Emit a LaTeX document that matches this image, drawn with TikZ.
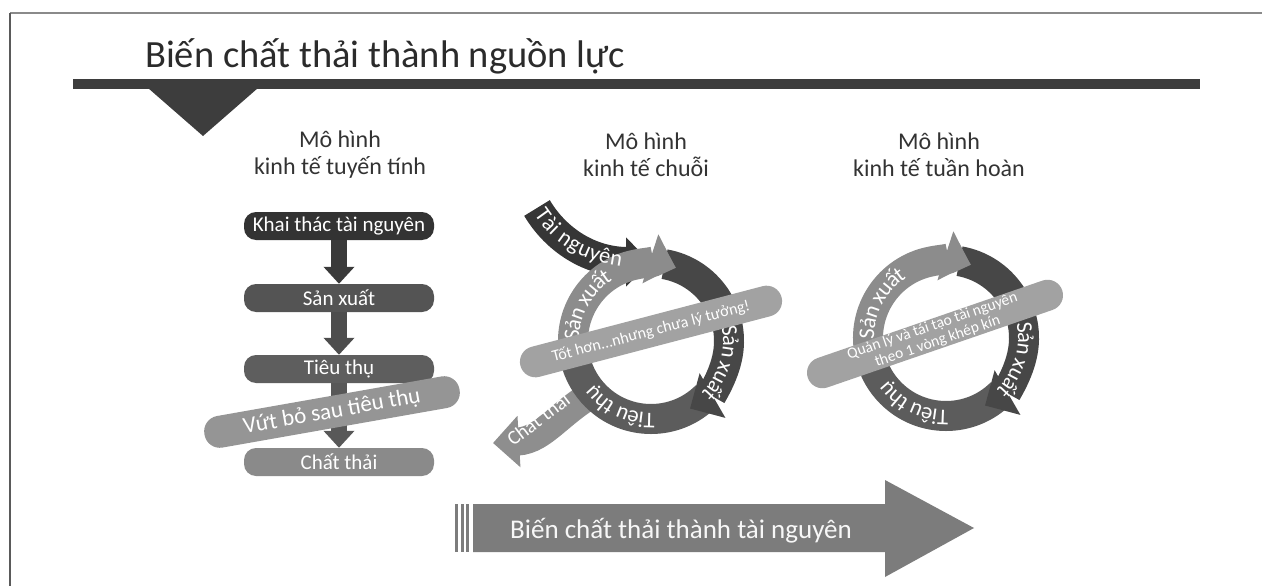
\documentclass[tikz,border=0pt]{standalone}
\usepackage{fontspec}
\setmainfont{Carlito}
\usetikzlibrary{arrows.meta,decorations.text,calc}
\definecolor{cTitle}{HTML}{2B2B2B}
\definecolor{cHdr}{HTML}{333333}
\definecolor{cBar}{HTML}{3D3D3D}
\definecolor{cFrameT}{HTML}{8A8A8A}
\definecolor{cFrameL}{HTML}{5A5A5A}
\definecolor{cBoxA}{HTML}{333333}
\definecolor{cBoxB}{HTML}{545454}
\definecolor{cBoxC}{HTML}{5E5E5E}
\definecolor{cBoxD}{HTML}{8A8A8A}
\definecolor{cArA}{HTML}{3A3A3A}
\definecolor{cArB}{HTML}{4D4D4D}
\definecolor{cArC}{HTML}{585858}
\definecolor{cBand}{HTML}{A2A2A2}
\definecolor{cRingL}{HTML}{8C8C8C}
\definecolor{cRingR}{HTML}{474747}
\definecolor{cRingB}{HTML}{5C5C5C}
\definecolor{cRes}{HTML}{363636}
\definecolor{cWaste}{HTML}{8E8E8E}
\definecolor{cBig}{HTML}{7C7C7C}
\newcommand\ringfont{\fontsize{22.5}{22.5}\selectfont}
\newcommand\wastefont{\fontsize{20}{20}\selectfont}
\begin{document}
\begin{tikzpicture}[x=1pt,y=1pt,
  hdr/.style={align=center, inner sep=0pt, text=cHdr, font=\fontsize{24}{27}\selectfont},
  lbox/.style={rounded corners=12pt, minimum width=190pt, minimum height=28pt, inner sep=0pt, text=white, font=\fontsize{21}{21}\selectfont},
  larrow/.style={line width=16pt, -{Triangle[length=17pt,width=30pt]}},
  band/.style={fill=cBand, rounded corners=15.5pt, inner sep=0pt, text=white, align=center},
  ring/.style={line width=30pt},
  rtip/.style={-{Triangle[length=26pt,width=50pt]}},
  ringtext/.style={decorate, decoration={text along path, text={|\ringfont|#1}, text align=center, text color=white, raise=-6pt}},
  restext/.style={decorate, decoration={text along path, text={|\ringfont|#1}, text align={left indent=4pt}, text color=white, raise=-6pt}}
]
\useasboundingbox (0,0) rectangle (1262,-586);
\fill[white] (0,0) rectangle (1262,-586);

% frame
\draw[cFrameT, line width=2pt] (10,-13) -- (1262,-13);
\draw[cFrameL, line width=2pt] (10,-13) -- (10,-586);

% title and bar
\node[anchor=base west, inner sep=0pt, text=cTitle, font=\fontsize{38.5}{40}\selectfont] (title) at (145,-68) {Biến chất thải thành nguồn lực};
\fill[cBar] (73,-79) rectangle (1200,-89);
\fill[cBar] (148,-88) -- (258,-88) -- (203,-136) -- cycle;

% headers
\node[hdr] (h1) at (340,-155) {Mô hình\\kinh tế tuyến tính};
\node[hdr] (h2) at (646,-155) {Mô hình\\kinh tế chuỗi};
\node[hdr] (h3) at (939,-155) {Mô hình\\kinh tế tuần hoàn};

% ---------- linear model ----------
\node[lbox, fill=cBoxA] (b1) at (339,-226) {Khai thác tài nguyên};
\node[lbox, fill=cBoxB] (b2) at (339,-298) {Sản xuất};
\node[lbox, fill=cBoxC] (b3) at (339,-369) {Tiêu thụ};
\node[lbox, fill=cBoxD] (b4) at (339,-462) {Chất thải};
\draw[larrow, draw=cArA, fill=cArA] (b1.south) -- (b2.north);
\draw[larrow, draw=cArB, fill=cArB] (b2.south) -- (b3.north);
\draw[larrow, draw=cArC, fill=cArC] (b3.south) -- (b4.north);
\node[band, fill=cBand!92!black, minimum width=259pt, minimum height=32pt, rotate=10, font=\fontsize{23}{23}\selectfont] (lband) at (332,-412) {Vứt bỏ sau tiêu thụ};

% ---------- chain model ----------
\coordinate (C1) at (651,-341);
\draw[line width=28pt, draw=cWaste, -{Triangle[length=26pt,width=50pt]}] (603,-388) .. controls (560,-410) and (545,-440) .. (493,-443);
\draw[ring, draw=cRingB] ($(C1)+(-45:78)$) arc[start angle=-45, end angle=-166, radius=78];
\draw[ring, rtip, draw=cRingR] ($(C1)+(80:78)$) arc[start angle=80, end angle=-60, radius=78];
\draw[line width=30pt, draw=cRes, -{Triangle[length=24pt,width=48pt]}] (537,-208) .. controls (556,-240) and (590,-262) .. (650,-262);
\draw[ring, rtip, draw=cRingL] ($(C1)+(194:78)$) arc[start angle=194, end angle=72, radius=78];
\node[inner sep=0pt, text=white, font=\wastefont, rotate=37] (wt) at (538,-419) {Chất thải};
\path[restext={Tài nguyên}] (537,-208) .. controls (556,-240) and (590,-262) .. (650,-262);
\path[ringtext={Sản xuất}] ($(C1)+(196:78)$) arc[start angle=196, end angle=106, radius=78];
\path[ringtext={Sản xuất}] ($(C1)+(28:78)$) arc[start angle=28, end angle=-62, radius=78];
\path[ringtext={Tiêu thụ}] ($(C1)+(-70:78)$) arc[start angle=-70, end angle=-160, radius=78];
\node[band, minimum width=270pt, minimum height=31pt, rotate=14.7, font=\fontsize{16}{16}\selectfont] (cband) at (651,-331.5) {Tốt hơn...nhưng chưa lý tưởng!};

% ---------- circular model ----------
\coordinate (C2) at (946,-338);
\draw[ring, draw=cRingB] ($(C2)+(-45:78)$) arc[start angle=-45, end angle=-166, radius=78];
\draw[ring, rtip, draw=cRingR] ($(C2)+(80:78)$) arc[start angle=80, end angle=-60, radius=78];
\draw[ring, rtip, draw=cRingL] ($(C2)+(194:78)$) arc[start angle=194, end angle=72, radius=78];
\path[ringtext={Sản xuất}] ($(C2)+(197:78)$) arc[start angle=197, end angle=107, radius=78];
\path[ringtext={Sản xuất}] ($(C2)+(28:78)$) arc[start angle=28, end angle=-62, radius=78];
\path[ringtext={Tiêu thụ}] ($(C2)+(-71:78)$) arc[start angle=-71, end angle=-161, radius=78];
\node[band, minimum width=269pt, minimum height=31pt, rotate=19, font=\fontsize{15.5}{16}\selectfont] (rband) at (935,-334) {Quản lý và tái tạo tài nguyên\\theo 1 vòng khép kín};

% ---------- bottom arrow ----------
\fill[cBig] (455,-504) rectangle (458,-552);
\fill[cBig] (460.5,-504) rectangle (463.5,-552);
\fill[cBig] (466,-504) rectangle (469,-552);
\fill[cBig] (473,-504) -- (885,-504) -- (885,-480) -- (974,-528) -- (885,-577) -- (885,-552) -- (473,-552) -- cycle;
\node[anchor=base west, inner sep=0pt, text=white!94!gray, font=\fontsize{27}{27}\selectfont] (bt) at (510,-538) {Biến chất thải thành tài nguyên};
\end{tikzpicture}
\end{document}
